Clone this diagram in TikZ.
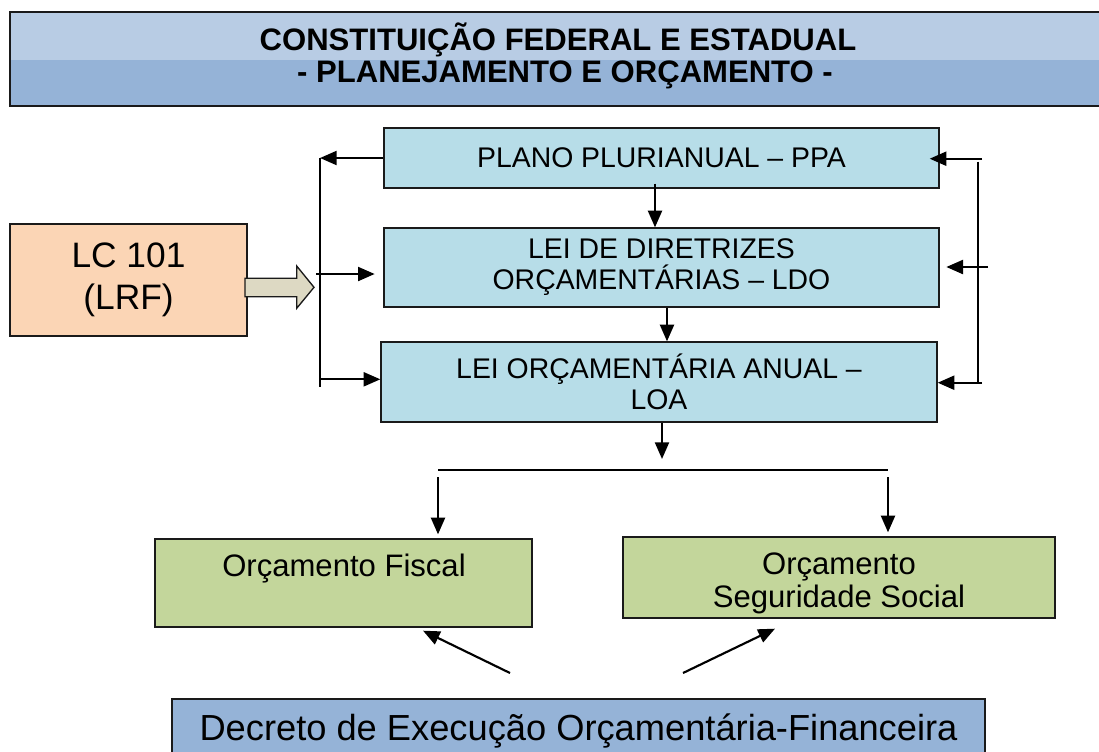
\documentclass[tikz,border=0pt]{standalone}
\usepackage{fontspec}
\setmainfont{Liberation Sans}
\usetikzlibrary{arrows.meta,calc}
\definecolor{hdrtop}{HTML}{B8CCE4}
\definecolor{hdrbot}{HTML}{95B3D7}
\definecolor{lblue}{HTML}{B7DDE8}
\definecolor{peach}{HTML}{FBD5B5}
\definecolor{lgreen}{HTML}{C3D69B}
\definecolor{beige}{HTML}{DDD9C3}
\definecolor{edge}{HTML}{1A1A1A}
\begin{document}
\begin{tikzpicture}[x=0.75pt,y=-0.75pt,
  boxbase/.style={draw=edge,line width=1pt,inner sep=0pt,align=center},
  bluebox/.style={boxbase,fill=lblue,font=\fontsize{21.3}{23.3}\selectfont},
  greenbox/.style={boxbase,fill=lgreen,font=\fontsize{23.3}{24.8}\selectfont},
  conn/.style={line width=1.6pt,draw=black},
  arr/.style={conn,-{Triangle[length=12.5pt,width=10.5pt]}},
  lbl/.style={inner sep=0pt,align=center}
]
\useasboundingbox (0,0) rectangle (1099,751);
\begin{scope}
\clip (0,0) rectangle (1099,751);
% header
\fill[hdrtop] (10,12) rectangle (1110,60);
\fill[hdrbot] (10,60) rectangle (1110,106);
\draw[edge,line width=1pt] (1110,12) -- (10,12) -- (10,106) -- (1110,106);
\node[lbl,font=\fontsize{23.3}{26}\selectfont\bfseries] (h1) at (558,40) {CONSTITUIÇÃO FEDERAL E ESTADUAL};
\node[lbl,font=\fontsize{23.3}{26}\selectfont\bfseries] (h2) at (565,75) {- PLANEJAMENTO E ORÇAMENTO -};

% blue boxes
\node[bluebox,minimum width=416.25pt,minimum height=45pt] (ppa) at (661.5,158) {PLANO PLURIANUAL – PPA};
\node[bluebox,minimum width=416.25pt,minimum height=59.25pt] (ldo) at (661.5,267.5) {LEI DE DIRETRIZES\\ORÇAMENTÁRIAS – LDO};
\node[bluebox,minimum width=417pt,minimum height=60pt] (loa) at (659,382) {LEI ORÇAMENTÁRIA ANUAL –\\LOA};

% LC box
\node[boxbase,fill=peach,minimum width=177.75pt,minimum height=84pt,font=\fontsize{26.5}{31.5}\selectfont] (lc) at (128.5,280) {LC 101\\(LRF)};

% fat arrow
\draw[edge,line width=1pt,fill=beige] (245,278.3) -- (296.7,278.3) -- (296.7,266) -- (314,287.3) -- (296.7,308.3) -- (296.7,296.7) -- (245,296.7) -- cycle;

% left bracket
\coordinate (lbt) at (320,158);
\coordinate (lbb) at (320,386.7);
\coordinate (lm) at (316,274);
\coordinate (lb3) at (320,379.3);
\draw[conn] (lbt) -- (lbb);
\draw[arr] (ppa.west) -- (lbt);
\draw[arr,shorten >=6.5pt] (lm) -- (lm -| ldo.west);
\draw[arr] (lb3) -- (lb3 -| loa.west);

% right bracket
\coordinate (rbt) at (977.7,161.7);
\coordinate (rbb) at (977.7,382.7);
\coordinate (rt) at (982,158.7);
\coordinate (rm) at (988,267);
\coordinate (rb) at (982,382.7);
\draw[conn] (rbt) -- (rbb);
\draw[arr,shorten >=-7.5pt] (rt) -- (rt -| ppa.east);
\draw[arr,shorten >=5pt] (rm) -- (rm -| ldo.east);
\draw[arr] (rb) -- (rb -| loa.east);

% vertical chain
\draw[arr] ($(ppa.south)+(-6.5,-5)$) -- ($(ldo.north)+(-6.5,0)$);
\draw[arr] ($(ldo.south)+(5.5,0)$) -- ($(loa.north)+(8,0)$);
\coordinate (split) at (662,459);
\draw[arr] ($(loa.south)+(3,0)$) -- (split);

% green boxes
\node[greenbox,minimum width=282.75pt,minimum height=66pt] (fisc) at (343.5,583) {};
\node[lbl,font=\fontsize{23.3}{24.8}\selectfont] (fisct) at (344,569) {Orçamento Fiscal};
\node[greenbox,minimum width=324pt,minimum height=60.75pt] (seg) at (839,577.5) {};
\node[lbl,font=\fontsize{23.3}{24.8}\selectfont] (segt) at (839,583) {Orçamento\\Seguridade Social};

% split line
\coordinate (sl) at (438,470);
\coordinate (sr) at (888,470);
\draw[conn] (sl) -- (sr);
\coordinate (dl) at (438,477);
\coordinate (dr) at (888,477);
\draw[arr,shorten >=3pt] (dl) -- (dl |- fisc.north);
\draw[arr,shorten >=3pt] (dr) -- (dr |- seg.north);

% decreto
\node[boxbase,fill=hdrbot,minimum width=609.75pt,minimum height=48pt,font=\fontsize{27.2}{30}\selectfont] (dec) at (578.5,731) {Decreto de Execução Orçamentária-Financeira};

% diagonals
\coordinate (d1) at (510,673);
\coordinate (d2) at (683,673);
\draw[arr] (d1) -- ($(fisc.south)+(79.5,3)$);
\draw[arr] (d2) -- ($(seg.south)+(-64,10)$);
\end{scope}
\end{tikzpicture}
\end{document}
